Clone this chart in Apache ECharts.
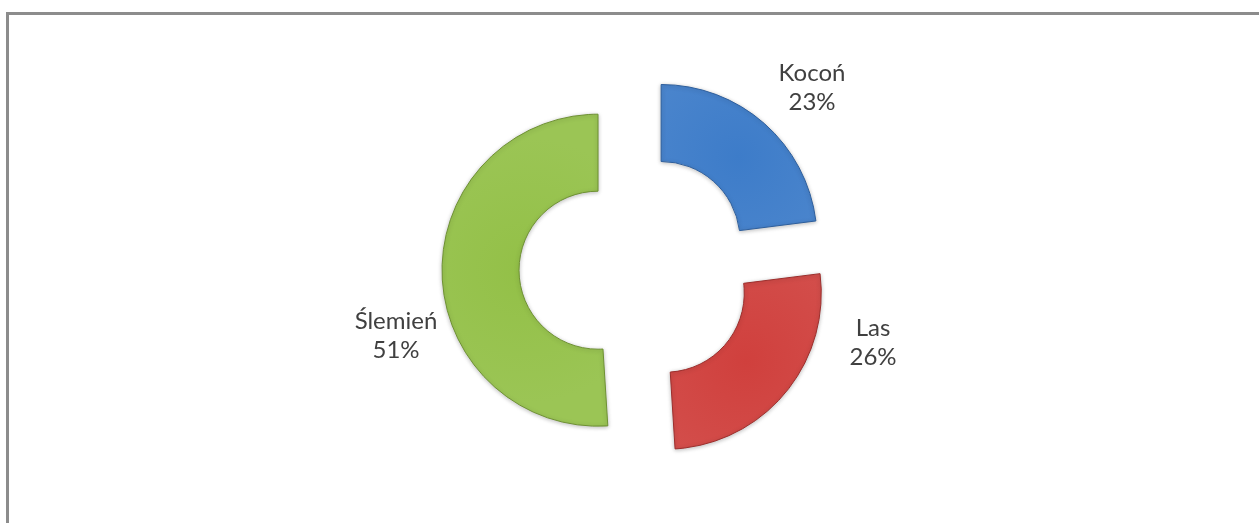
<!DOCTYPE html>
<html>
<head>
<meta charset="utf-8">
<script src="https://cdn.jsdelivr.net/npm/echarts@6/dist/echarts.min.js"></script>
<style>
    html, body {
        margin: 0;
        padding: 0;
        background: #fff;
    }
    .frame {
        position: absolute;
        left: 6px;
        top: 12px;
        width: 1260px;
        height: 520px;
        border-top: 3px solid #8c8c8c;
        border-left: 3px solid #8c8c8c;
        box-sizing: border-box;
    }
    #chart {
        position: absolute;
        left: 0;
        top: 0;
        width: 1259px;
        height: 523px;
    }
</style>
</head>
<body>
<div class="frame"></div>
<div id="chart"></div>
<script>
const names = ['Kocoń', 'Las', 'Ślemień']
const values = [23, 26, 51]
const colors = ['#3d7cc9', '#d0403d', '#93c047']
const borders = ['#2d5e9c', '#9c2e2c', '#6e9133']
// label block centres (px), like Excel's "best fit"
const labelPos = [[812, 88], [873, 343], [396, 336]]

const chart = echarts.init(document.getElementById('chart'))

const makeFill = (c) => new echarts.graphic.RadialGradient(0.5, 0.5, 0.8, [
    { offset: 0, color: c },
    { offset: 1, color: echarts.color.lift(c, 0.08) }
])

const total = values.reduce((s, v) => s + v, 0)

// labels drawn as text elements, since selected slices ignore labelLayout
const labels = names.map((n, i) => ({
    type: 'text',
    x: labelPos[i][0],
    y: labelPos[i][1],
    silent: true,
    style: {
        text: n + '\n' + Math.round(values[i] / total * 100) + '%',
        align: 'center',
        verticalAlign: 'middle',
        fontFamily: 'Lato, "Open Sans", sans-serif',
        fontSize: 24,
        lineHeight: 29,
        fill: '#404040'
    }
}))

const option = {
    animation: false,
    graphic: labels,
    series: [
        {
            type: 'pie',
            center: [636, 269],
            radius: [79, 156],
            startAngle: 90,
            clockwise: true,
            selectedMode: 'multiple',
            selectedOffset: 38,
            emphasis: { disabled: true },
            itemStyle: {
                borderWidth: 1,
                shadowBlur: 4,
                shadowColor: 'rgba(0,0,0,0.25)',
                shadowOffsetY: 1
            },
            label: { show: false },
            labelLine: { show: false },
            data: names.map((n, i) => ({
                name: n,
                value: values[i],
                selected: true,
                itemStyle: {
                    color: makeFill(colors[i]),
                    borderColor: borders[i]
                }
            }))
        }
    ]
}

chart.setOption(option)
</script>
</body>
</html>
